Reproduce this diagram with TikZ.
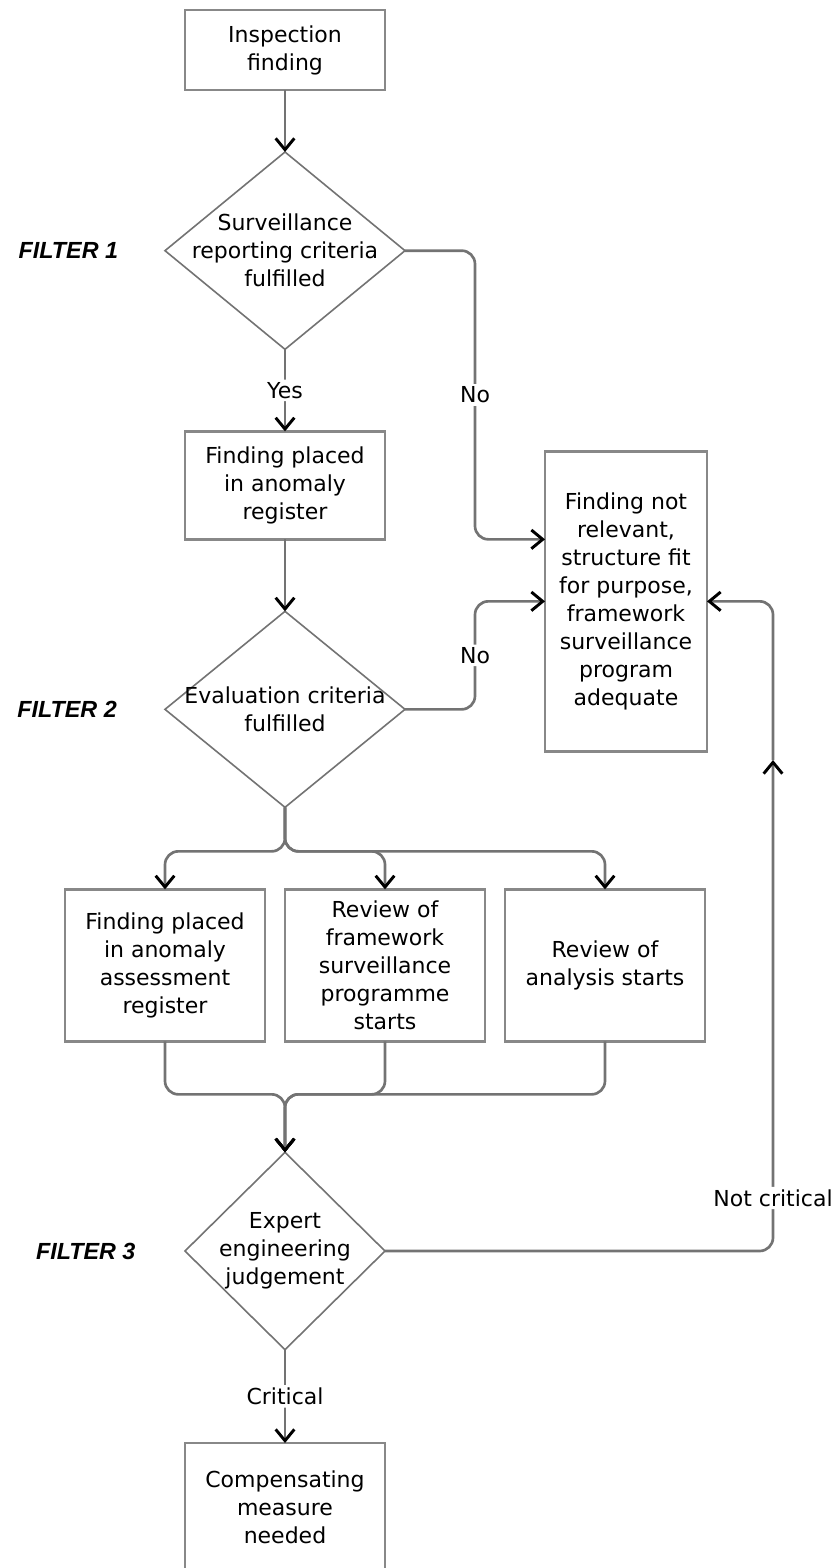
\documentclass[tikz,border=0pt]{standalone}
\usepackage{fontspec}
\setmainfont{DejaVu Sans}
\newfontfamily\filterfont{Liberation Sans}
\usetikzlibrary{positioning,shapes.geometric,arrows.meta}
\definecolor{boxgray}{RGB}{136,136,136}
\definecolor{linegray}{RGB}{115,115,115}

\begin{document}
\begin{tikzpicture}[x=0.75pt,y=-0.75pt]
                        \tikzset{Box/.style={%
                                shape=rectangle,%
                                draw=boxgray,%
                                line width=2.2pt,%
                                fill=white,%
                                minimum width=150pt,%
                                inner sep=0pt,%
                                outer sep=0pt,%
                                align=center,%
                                font=\fontsize{16.5}{21}\selectfont,%
                            }}
                        \tikzset{Decision/.style={%
                                shape=diamond,%
                                draw=linegray,%
                                line width=1.2pt,%
                                inner sep=0pt,%
                                outer sep=0pt,%
                                minimum width=180pt,%
                                minimum height=148pt,%
                            }}
                        \tikzset{Inside/.style={align=center, font=\fontsize{16.5}{21}\selectfont}}
                        \tikzset{Answer/.style={fill=white, inner sep=2pt, font=\fontsize{16.5}{21}\selectfont}}
                        \tikzset{Filter/.style={inner sep=0pt, font=\filterfont\bfseries\itshape\fontsize{17.5}{20}\selectfont}}
                        \tikzset{Flow/.style={%
                                draw=linegray,%
                                line width=2pt,%
                                rounded corners=10pt,%
                                -{Straight Barb[length=8.5pt,width=14pt,line width=2.2pt,color=black]},%
                            }}

                            \useasboundingbox (0,0) rectangle (836,1568);

                            \node[Box, minimum height=60pt] (start) at (285,50) {Inspection\\finding};
                            \node[Decision, below=46.5pt of start,
                                label={[Inside]center:Surveillance\\reporting criteria\\fulfilled}] (d1) {};
                            \node[Box, minimum height=81pt, below=61.5pt of d1] (reg) {Finding placed\\in anomaly\\register};
                            \node[Decision, minimum height=147pt, below=54pt of reg,
                                label={[Inside]center:Evaluation criteria\\fulfilled}] (d2) {};
                            \node[Box, minimum width=121.5pt, minimum height=225pt, right=120pt of reg, yshift=-87pt] (notrel)
                                {Finding not\\relevant,\\structure fit\\for purpose,\\framework\\surveillance\\program\\adequate};

                            \node[Box, minimum height=114pt, below=61.5pt of d2, xshift=75pt] (review)
                                {Review of\\framework\\surveillance\\programme\\starts};
                            \node[Box, minimum height=114pt, left=15pt of review] (assess) {Finding placed\\in anomaly\\assessment\\register};
                            \node[Box, minimum height=114pt, right=15pt of review] (analysis) {Review of\\analysis starts};

                            \node[Decision, minimum width=150pt, below=258.75pt of d2,
                                label={[Inside]center:Expert\\engineering\\judgement}] (d3) {};
                            \node[Box, minimum height=97pt, below=70pt of d3] (comp) {Compensating\\measure\\needed};

                            \node[Filter, left=35pt of d1] (f1) {FILTER 1};
                            \node[Filter, left=36pt of d2] (f2) {FILTER 2};
                            \node[Filter, left=37pt of d3] (f3) {FILTER 3};

                            \coordinate (in1) at ([yshift=46.5pt]notrel.west);
                            \coordinate (fork) at ([yshift=-33pt]d2.south);
                            \coordinate (join) at ([yshift=43.5pt]d3.north);
                            \coordinate (up) at (773,760);

                            \draw[Flow] (start) -- (d1);
                            \draw[Flow] (d1) -- node[Answer]{Yes} (reg);
                            \draw[Flow] (reg) -- (d2);
                            \draw[Flow] (d1.east) -- ++(70,0) |- node[Answer, pos=.25]{No} (in1);
                            \draw[Flow] (d2.east) -- ++(70,0) |- node[Answer, pos=.25]{No} (notrel.west);
                            \foreach \b in {assess,review,analysis}
                                \draw[Flow] (d2.south) |- (fork -| \b.north) -- (\b.north);
                            \foreach \b in {assess,review,analysis}
                                \draw[Flow] (\b.south) |- (join) -- (d3.north);
                            \draw[Flow] (d3.east) -| node[Answer, pos=.554]{Not critical} (up);
                            \draw[Flow] (up) |- (notrel.east);
                            \draw[Flow] (d3) -- node[Answer]{Critical} (comp);
                    \end{tikzpicture}
\end{document}
